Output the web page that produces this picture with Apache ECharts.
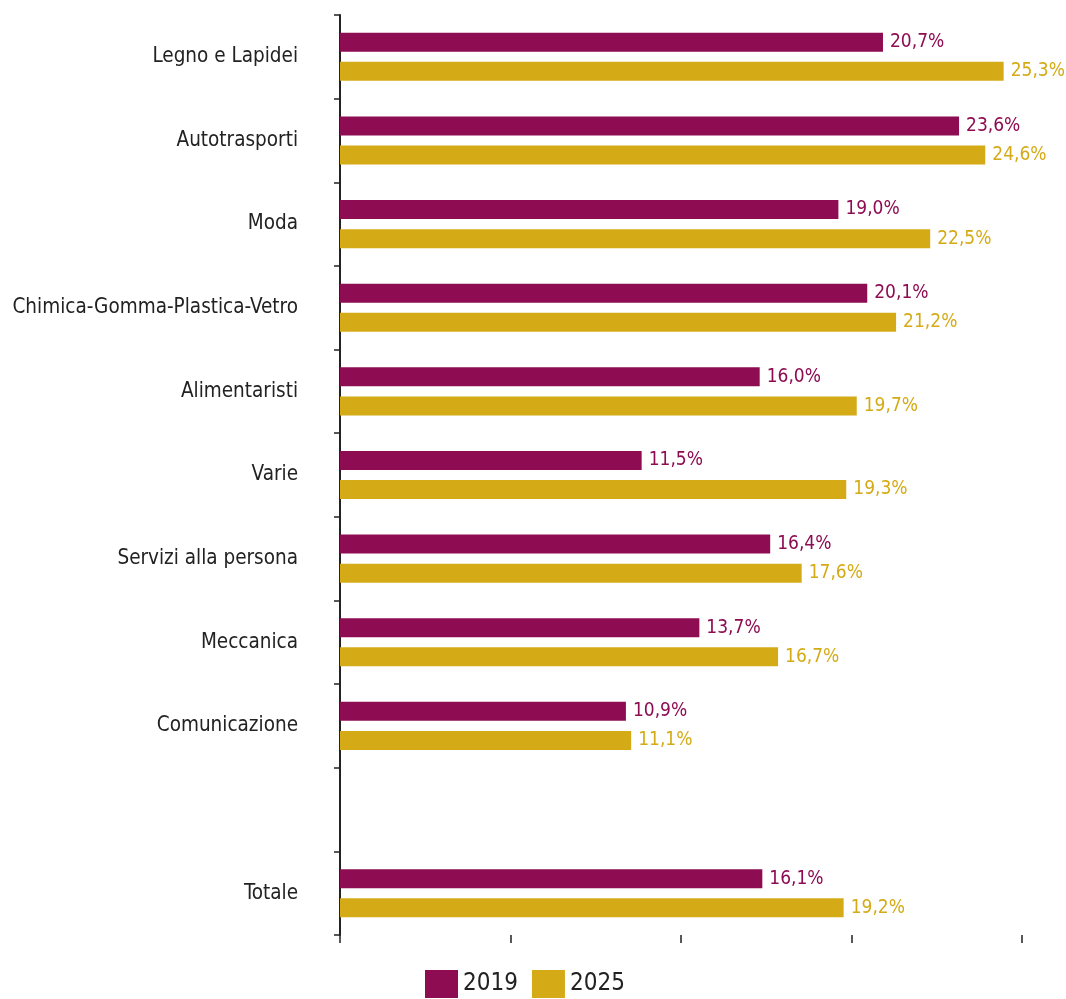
<!DOCTYPE html>
<html>
<head>
<meta charset="utf-8">
<script src="https://cdn.jsdelivr.net/npm/echarts@6/dist/echarts.min.js"></script>
<style>html,body{margin:0;padding:0;background:#fff;}#c{width:1066px;height:999px;}</style>
</head>
<body>
<div id="c"></div>
<script>
const categories = ['Legno e Lapidei','Autotrasporti','Moda','Chimica-Gomma-Plastica-Vetro','Alimentaristi','Varie','Servizi alla persona','Meccanica','Comunicazione','','Totale'];
const values2019 = [20.7, 23.6, 19.0, 20.1, 16.0, 11.5, 16.4, 13.7, 10.9, null, 16.1];
const values2025 = [25.3, 24.6, 22.5, 21.2, 19.7, 19.3, 17.6, 16.7, 11.1, null, 19.2];
const seriesNames = ['2019','2025'];

const FONT = '"Liberation Sans Narrow", "DejaVu Sans Condensed", sans-serif';
const C1 = '#8E0C52', C2 = '#D4AB16';
const fmt = p => p.value == null ? '' : p.value.toFixed(1).replace('.', ',') + '%';

const chart = echarts.init(document.getElementById('c'));
chart.setOption({
  animation: false,
  textStyle: { fontFamily: FONT },
  grid: { left: 340, right: 44, top: 15, bottom: 64, containLabel: false, outerBoundsMode: 'none' },
  legend: {
    left: 420, top: 965, icon: 'rect',
    itemWidth: 33, itemHeight: 28, itemGap: 14,
    textStyle: { fontFamily: FONT, fontSize: 24, color: '#222' },
    data: seriesNames
  },
  xAxis: {
    type: 'value', min: 0, max: 26, interval: 6.5,
    axisLine: { show: false },
    axisTick: { show: true, length: 8, lineStyle: { color: '#222', width: 1.5 } },
    axisLabel: { show: false },
    splitLine: { show: false }
  },
  yAxis: {
    type: 'category', data: categories, inverse: true,
    axisLine: { show: true, lineStyle: { color: '#222', width: 2 } },
    axisTick: { show: true, length: 6, lineStyle: { color: '#222', width: 1.5 } },
    axisLabel: { fontFamily: FONT, fontSize: 20.5, color: '#222', margin: 42 }
  },
  series: [
    { name: seriesNames[0], type: 'bar', data: values2019, barWidth: 19, barGap: '53%',
      itemStyle: { color: C1 },
      label: { show: true, position: 'right', distance: 7, formatter: fmt, fontFamily: FONT, fontSize: 19, color: C1 } },
    { name: seriesNames[1], type: 'bar', data: values2025, barWidth: 19,
      itemStyle: { color: C2 },
      label: { show: true, position: 'right', distance: 7, formatter: fmt, fontFamily: FONT, fontSize: 19, color: C2 } }
  ]
});
</script>
</body>
</html>
